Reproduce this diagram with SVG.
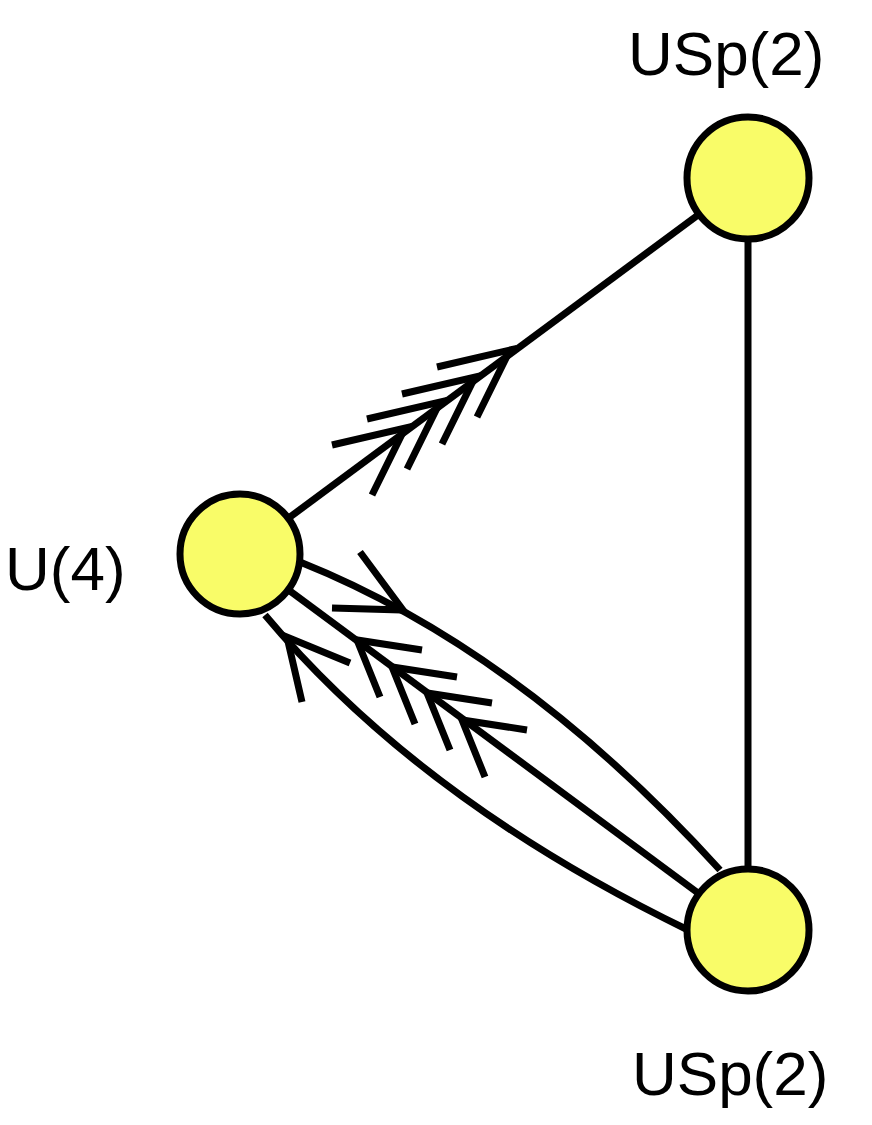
<svg xmlns="http://www.w3.org/2000/svg" width="872" height="1125" viewBox="0 0 872 1125">
<style>
.e{fill:none;stroke:#000;stroke-width:7}
.n{fill:#f9fc68;stroke:#000;stroke-width:7}
.t{font-family:"Liberation Sans",Arial,sans-serif;font-size:62px;fill:#000}
</style>
<rect width="872" height="1125" fill="#fff"/>
<g id="edges">
<line class="e" x1="240" y1="554" x2="748" y2="178"/>
<line class="e" x1="748" y1="178" x2="748" y2="930"/>
<line class="e" x1="240" y1="554" x2="748" y2="930"/>
<path class="e" d="M300,562 Q520,650 720,870"/>
<path class="e" d="M265,615 Q420,800 688,930"/>
<polyline class="e" points="437,367 510,350 477,417"/>
<polyline class="e" points="402,394 475,377 442,444"/>
<polyline class="e" points="367,419 440,402 407,469"/>
<polyline class="e" points="332,445 405,428 372,495"/>
<polyline class="e" points="422,650 357,640 380,697"/>
<polyline class="e" points="457,677 392,667 415,724"/>
<polyline class="e" points="492,703 427,693 450,750"/>
<polyline class="e" points="527,730 462,720 485,777"/>
<polyline class="e" points="350,663 287,637 302,702"/>
<polyline class="e" points="360,552 403,610 332,608"/>
</g>
<g id="n1"><circle class="n" cx="240" cy="554" r="60"/><text class="t" x="5" y="590">U(4)</text></g>
<g id="n2"><circle class="n" cx="748" cy="178" r="61"/><text class="t" x="628" y="75">USp(2)</text></g>
<g id="n3"><circle class="n" cx="748" cy="930" r="61"/><text class="t" x="632" y="1095">USp(2)</text></g>
</svg>
